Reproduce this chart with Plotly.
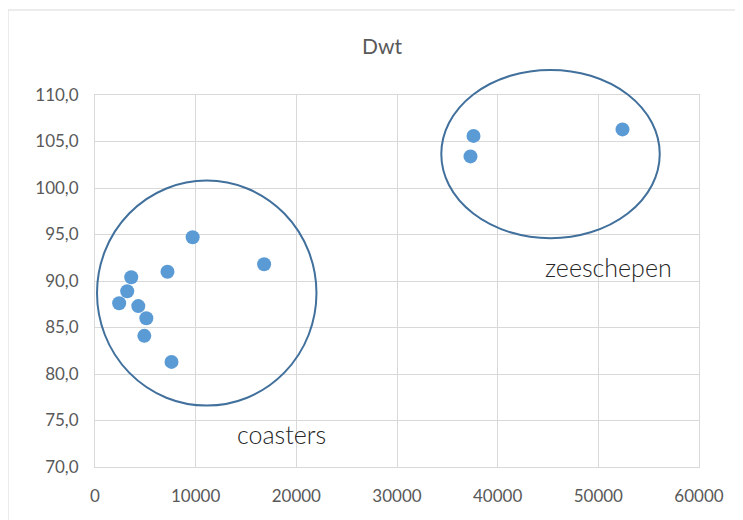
import plotly.graph_objects as go

# Data
dwt = [2400, 3200, 3600, 4300, 5100, 4900, 7200, 7600, 9700, 16800, 37300, 37600, 52400]
values = [87.6, 88.9, 90.4, 87.3, 86.0, 84.1, 91.0, 81.3, 94.7, 91.8, 103.4, 105.6, 106.3]

x_ticks = [0, 10000, 20000, 30000, 40000, 50000, 60000]
x_labels = ["0", "10000", "20000", "30000", "40000", "50000", "60000"]
y_ticks = [70, 75, 80, 85, 90, 95, 100, 105, 110]
y_labels = ["70,0", "75,0", "80,0", "85,0", "90,0", "95,0", "100,0", "105,0", "110,0"]

groups = ["coasters", "zeeschepen"]
group_x0 = [200, 34400]
group_x1 = [22000, 56100]
group_y0 = [76.6, 94.6]
group_y1 = [100.8, 112.7]
label_x = [18500, 51000]
label_y = [73.6, 91.5]

X_RANGE = [0, 60000]
Y_RANGE = [70, 110]

FONT = "Lato"
GRID = "#d9d9d9"

# page offset (browser body margin)
OFF = 8
W, H = 743, 520
L, R, T, B = 95 - OFF, W - 699 + OFF, 95 - OFF, H - 467 + OFF
PW, PH = W - L - R, H - T - B


def px(v):
    return (v - X_RANGE[0]) / (X_RANGE[1] - X_RANGE[0])


def py(v):
    return (v - Y_RANGE[0]) / (Y_RANGE[1] - Y_RANGE[0])


fig = go.Figure()
fig.add_trace(go.Scatter(
    x=dwt, y=values, mode="markers",
    marker=dict(color="#5b9bd5", size=14, line=dict(width=0)),
    showlegend=False, cliponaxis=False,
))

for i, g in enumerate(groups):
    fig.add_shape(type="circle", xref="paper", yref="paper",
                  x0=px(group_x0[i]), x1=px(group_x1[i]),
                  y0=py(group_y0[i]), y1=py(group_y1[i]),
                  line=dict(color="#41709c", width=2), layer="above")
    fig.add_annotation(x=label_x[i], y=label_y[i], text=g, showarrow=False,
                       font=dict(family=FONT, size=25, color="#262626", weight=300))

# chart border
fig.add_shape(type="rect", xref="paper", yref="paper",
              x0=(8 - 95) / PW, x1=1.3, y0=-0.3, y1=1 + (95 - 10) / PH,
              line=dict(color="#d9d9d9", width=1), layer="below")

fig.update_layout(
    width=W, height=H,
    margin=dict(l=L, r=R, t=T, b=B),
    paper_bgcolor="white", plot_bgcolor="white",
    title=dict(text="Dwt", x=(382 - OFF) / W, xanchor="center", y=1 - (47 - OFF) / H, yanchor="middle",
               font=dict(family=FONT, size=21, color="#595959")),
    font=dict(family=FONT, size=17, color="#595959"),
    xaxis=dict(range=X_RANGE, tickvals=x_ticks, ticktext=x_labels,
               showgrid=True, gridcolor=GRID, gridwidth=1, zeroline=False,
               showline=True, linecolor=GRID, linewidth=1, mirror=True,
               ticks="", ticklabelstandoff=14),
    yaxis=dict(range=Y_RANGE, tickvals=y_ticks, ticktext=y_labels,
               showgrid=True, gridcolor=GRID, gridwidth=1, zeroline=False,
               showline=True, linecolor=GRID, linewidth=1, mirror=True,
               ticks="", ticklabelstandoff=12),
)

fig.write_html("out.html")
